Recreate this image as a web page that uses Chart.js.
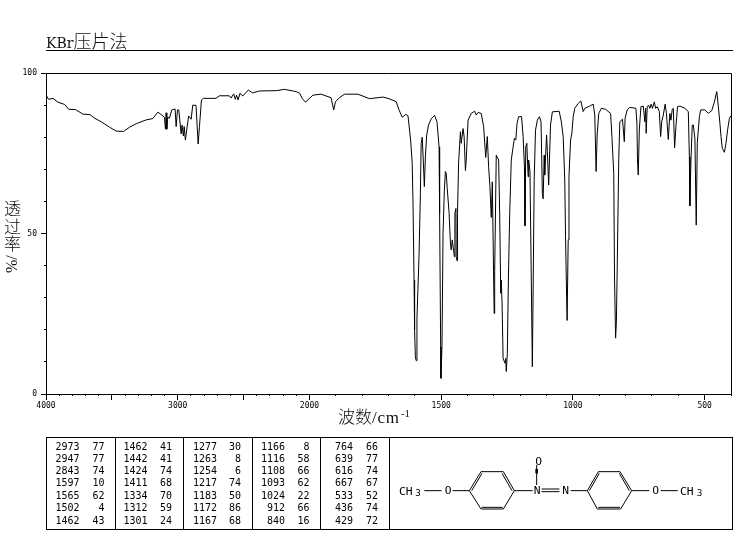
<!DOCTYPE html>
<html><head><meta charset="utf-8">
<script src="https://cdn.jsdelivr.net/npm/chart.js@4"></script>
<style>
html,body{margin:0;padding:0;background:#fff;width:737px;height:539px;overflow:hidden}
#wrap{position:relative;width:737px;height:539px}
canvas{position:absolute;left:0;top:0}
.t{position:absolute;color:#111;white-space:nowrap;line-height:1}
.cjk{font-family:"Noto Sans CJK SC";font-weight:300}
.cell{position:absolute;font:10px/12px "DejaVu Sans Mono";color:#000;text-align:right;white-space:pre}
.rule{position:absolute;background:#000}
</style></head><body><div id="wrap">
<canvas id="c" width="737" height="539"></canvas>
<div class="t" style="left:46px;top:31px;font-size:18px"><span style="font-family:'DejaVu Serif';font-size:14px">KBr</span><span class="cjk">压片法</span></div>
<div class="rule" style="left:46px;top:50px;width:687px;height:1px"></div>
<div class="t cjk" style="left:4px;top:199px;font-size:17px;line-height:17.5px;width:17px;white-space:normal">透<br>过<br>率</div>
<div class="t" style="left:4px;top:273px;font:16px/16px 'Liberation Serif';transform-origin:0 0;transform:rotate(-90deg)">%/</div>
<div class="t" style="left:338px;top:407px;font-size:17px"><span class="cjk">波数</span><span style="font:17px 'Liberation Serif';letter-spacing:.8px">/cm</span><sup style="font:11px 'Liberation Serif';vertical-align:6px;margin-left:1px">-1</sup></div>
<div id="table"></div>
<svg style="position:absolute;left:380px;top:430px" width="357" height="105" viewBox="0 0 1071 315" fill="none" stroke="#000" stroke-width="3">
<g font-family="DejaVu Sans Mono" font-size="34" fill="#000" stroke="none">
<text x="57" y="194">CH</text><text x="106" y="199" font-size="28">3</text>
<text x="194" y="193">O</text>
<text x="461" y="193">N</text><text x="466" y="104">O</text>
<text x="547" y="193">N</text><text x="817" y="193">O</text>
<text x="900" y="194">CH</text><text x="950" y="199" font-size="28">3</text>
</g>
<path d="M133 182H185M218 182H268M268 182L303 125H370L403 182L370 237H303ZM275 182L306 130M366 130L396 182M305 232H368M403 182H458M470 165V105M485 177H538M485 185H538M572 182H622M622 182L655 125H720L755 182L722 237H652ZM628 182L658 130M718 130L748 182M655 232H720M755 182H808M842 182H893"/>
<path d="M470 130V117" stroke-width="8"/>
</svg>
</div>
<script>
const wavenumbers=[4000,3980,3947,3909,3858,3828,3775,3720,3664,3631,3580,3517,3467,3411,3366,3315,3239,3189,3151,3121,3101,3093,3088,3083,3076,3063,3045,3020,3012,3002,2992,2974,2967,2957,2951,2942,2932,2917,2898,2886,2861,2845,2835,2820,2805,2709,2684,2608,2595,2575,2563,2553,2542,2527,2507,2464,2432,2378,2252,2189,2100,2075,2055,2030,1987,1956,1918,1908,1901,1886,1867,1816,1772,1721,1702,1671,1660,1648,1635,1626,1616,1610,1607,1603,1601,1598,1595,1592,1584,1579,1576,1572,1568,1564,1560,1555,1548,1538,1525,1516,1508,1506,1502,1501,1497,1493,1488,1484,1481,1477,1470,1465,1462,1458,1450,1448,1444,1443,1440,1438,1434,1430,1427,1424,1417,1413,1408,1405,1398,1386,1373,1367,1360,1348,1339,1331,1325,1320,1315,1310,1306,1299,1297,1291,1282,1278,1274,1272,1269,1265,1258,1255,1253,1249,1245,1240,1234,1227,1222,1217,1212,1206,1195,1189,1184,1182,1179,1175,1170,1168,1163,1154,1151,1147,1142,1135,1127,1121,1116,1113,1109,1107,1100,1097,1092,1085,1078,1052,1044,1037,1031,1028,1023,1022,1018,1015,1009,1004,999,993,980,970,961,955,936,923,917,912,908,902,892,876,857,852,845,842,838,835,832,826,822,812,805,802,794,784,761,757,755,752,748,742,733,727,724,722,718,713,708,703,698,691,686,680,672,667,663,657,650,645,638,632,628,623,619,614,609,603,594,575,562,558,556,552,547,543,537,532,528,520,515,499,486,473,463,454,448,442,438,433,425,419,413,406,400];
const transmittance=[93.1,91.8,92.1,90.9,90.2,88.7,88.6,87.2,87.0,85.9,84.8,83.1,81.9,81.8,83.1,84.2,85.4,85.8,87.8,86.9,86.2,82.5,87.6,82.5,86.2,85.9,88.5,88.8,83.3,88.5,88.5,81,83.8,80.4,83.3,79.1,82.2,86.6,85.6,90,89.9,77.9,83.3,91.6,92.1,92.1,92.9,92.9,92.2,93.5,91.8,93.1,91.6,93.7,92.8,94.7,93.8,94.4,94.5,94.9,94.2,93.7,92.1,90.9,93.1,93.4,92.3,88.5,91.1,92.3,93.4,93.4,92,92.5,92.1,91.1,88.5,86.2,87.1,86.7,79.1,71.8,59.4,35.5,19.9,11.6,10.4,23.6,43.3,62.5,78.1,80,72.9,64.6,73.9,80.7,83.8,85.7,86.8,84.8,77,56.3,14.8,4.9,14.8,50,63.5,69.3,68.7,64,56.3,47,44.9,48,42.8,56.3,57.8,42.8,41.5,56.3,71.9,77.6,81.7,78.1,82.7,80.2,69.6,72.9,85.3,87.4,88.1,86.9,87.7,87.4,83.3,73.7,80.2,70.8,64.6,55,66.1,25.1,38.1,74.4,72.9,56.3,31.4,35.5,28.3,11.1,9.6,11.1,7,12.7,35.5,56.3,72.9,77,79.6,79.1,84.3,86.4,86.4,80.2,70.8,52.4,77,78.1,67.7,72.9,69.3,8.5,32.4,66.7,82.2,85.3,86.4,84.8,62.5,60.8,74.4,68.2,80.7,75.5,65.1,83.8,87.9,88.1,84.8,80.2,66.7,49,26.2,22.9,48,67.7,79.1,81.2,86.4,89,90.5,91.3,88,89,89.7,90.3,86.9,69.3,80.7,87.4,89,88.7,87.4,80.2,68.7,35.5,17.4,22.5,38.6,73.4,84.8,85.6,78.6,85.9,88.5,89.3,89,84.3,72.9,68.2,82.2,89.5,89.7,84.8,89,81.2,89.5,90,89,90.3,89,91,89,89.5,88,80.2,84.8,86.9,90.3,87.4,79.3,87.4,85.3,88.7,89,76.7,83.3,89.5,89.7,89,88,73.9,58.6,72.9,83.8,83.8,79.6,52.6,78.1,86.4,88.5,88.5,87.4,88.3,91,94.2,89.5,84.3,80.2,76.5,75.3,78.1,82.2,85.9,86.7];
const xMajorTicks=[4000,3500,3000,2500,2000,1500,1000,500];
const xLabels=[4000,3000,2000,1500,1000,500];
const xMinorTicks=[4000,3900,3800,3700,3600,3500,3400,3300,3200,3100,3000,2900,2800,2700,2600,2500,2400,2300,2200,2100,2000,1900,1800,1700,1600,1500,1400,1300,1200,1100,1000,900,800,700,600,500,400];
const yLabels=[0,50,100];
const yMinorTicks=[0,10,20,30,40,50,60,70,80,90,100];
const peakWavenumbers=[2973,2947,2843,1597,1565,1502,1462,1462,1442,1424,1411,1334,1312,1301,1277,1263,1254,1217,1183,1172,1167,1166,1116,1108,1093,1024,912,840,764,639,616,667,533,436,429];
const peakIntensities=[77,77,74,10,62,4,43,41,41,74,68,70,59,24,30,8,6,74,50,86,68,8,58,66,62,22,66,16,66,77,74,67,52,74,72];

class WaveScale extends Chart.LinearScale{
  getPixelForValue(v){
    const units=v>=2000?(4000-v)/2:1000+(2000-v);
    return this.getPixelForDecimal(units/2600);
  }
}
WaveScale.id='wave';
WaveScale.defaults=Chart.LinearScale.defaults;
Chart.register(WaveScale);

const tickFont={family:'DejaVu Sans Mono',size:8};
const frame={id:'frame',afterDraw(ch){const a=ch.chartArea,c=ch.ctx;c.save();c.strokeStyle='#000';c.lineWidth=1;
  c.beginPath();c.moveTo(a.left,a.top+.5);c.lineTo(a.right+.5,a.top+.5);c.lineTo(a.right+.5,a.bottom);c.stroke();c.restore();}};
new Chart(document.getElementById('c'),{
  type:'line',
  data:{datasets:[{data:wavenumbers.map((x,i)=>({x,y:transmittance[i]})),borderColor:'#000',borderWidth:1,pointRadius:0,tension:0,fill:false,xAxisID:'x',yAxisID:'y'}]},
  plugins:[frame],
  options:{responsive:false,animation:false,devicePixelRatio:1,events:[],
    layout:{padding:{top:73,right:6,left:0,bottom:0}},
    plugins:{legend:{display:false},title:{display:false},tooltip:{enabled:false}},
    scales:{
      x:{type:'wave',position:'bottom',min:400,max:4000,weight:1,
        afterBuildTicks(s){s.ticks=xMajorTicks.map(value=>({value}));},
        afterFit(s){s.height=145;},
        grid:{drawOnChartArea:false,tickLength:6,tickColor:'#000'},border:{color:'#000',width:1},
        ticks:{autoSkip:false,maxRotation:0,color:'#000',font:tickFont,padding:1,callback(v){return xLabels.includes(v)?String(v):'';}}},
      x2:{type:'wave',position:'bottom',min:400,max:4000,weight:0,
        afterBuildTicks(s){s.ticks=xMinorTicks.map(value=>({value}));},
        afterFit(s){s.height=0;},
        grid:{drawOnChartArea:false,tickLength:2,tickColor:'#000'},border:{display:false},ticks:{display:false}},
      y:{type:'linear',position:'left',min:0,max:100,weight:1,
        afterBuildTicks(s){s.ticks=yLabels.map(value=>({value}));},
        afterFit(s){s.width=46;},
        grid:{drawOnChartArea:false,tickLength:5,tickColor:'#000'},border:{color:'#000',width:1},
        ticks:{color:'#000',font:tickFont,padding:4}},
      y2:{type:'linear',position:'left',min:0,max:100,weight:0,
        afterBuildTicks(s){s.ticks=yMinorTicks.map(value=>({value}));},
        afterFit(s){s.width=0;},
        grid:{drawOnChartArea:false,tickLength:2,tickColor:'#000'},border:{display:false},ticks:{display:false}}
    }
  }
});
const table=document.getElementById('table');
function box(l,t,w,h){const d=document.createElement('div');d.className='rule';d.style.cssText=`left:${l}px;top:${t}px;width:${w}px;height:${h}px`;table.appendChild(d);}
box(46,437,686,1);box(46,529,686,1);box(46,437,1,93);box(732,437,1,93);
[115,183,252,320,389].forEach(x=>box(x,437,1,93));
const waveEnds=[79.5,147.5,217,285,353],intEnds=[104.5,172,241,309.5,378];
const rowTops=[441,453,465,477,490,502,515];
function cell(txt,right,top){const d=document.createElement('div');d.className='cell';d.textContent=txt;d.style.right=(737-right)+'px';d.style.top=top+'px';table.appendChild(d);}
peakWavenumbers.forEach((w,i)=>{const c=Math.floor(i/7),r=i%7;cell(String(w),waveEnds[c],rowTops[r]);cell(String(peakIntensities[i]),intEnds[c],rowTops[r]);});
</script></body></html>
